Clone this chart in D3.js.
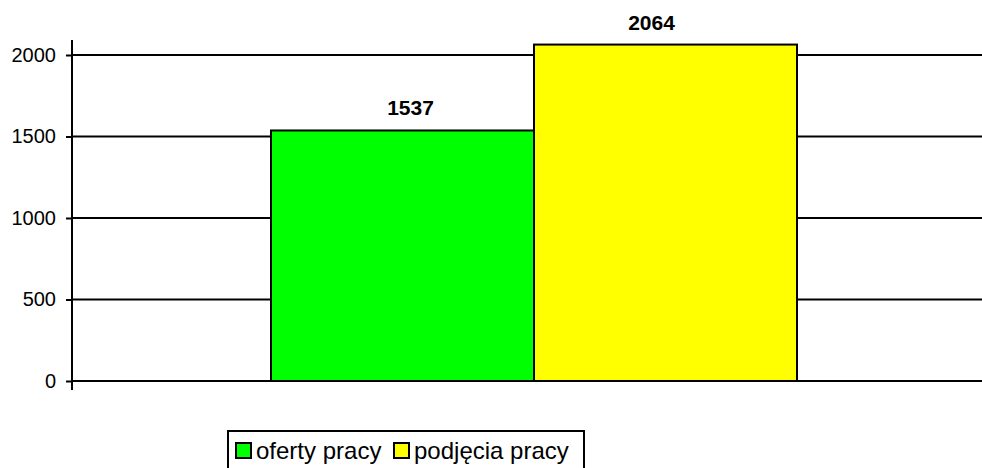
<!DOCTYPE html>
<html>
<head>
<meta charset="utf-8">
<script src="https://cdn.jsdelivr.net/npm/d3@7"></script>
<style>
  html, body { margin: 0; padding: 0; background: #fff; }
  svg { display: block; font-family: "Liberation Sans", Arial, sans-serif; }
</style>
</head>
<body>
<div id="chart"></div>
<script>
"use strict";
// data
const seriesNames = ["oferty pracy", "podjęcia pracy"];
const seriesValues = [1537, 2064];
const seriesColors = ["#00ff00", "#ffff00"];
const tickValues = [0, 500, 1000, 1500, 2000];

// layout (px)
const width = 982;
const height = 468;
const axisX = 72;
const plotTop = 40;
const labelDx = [8, -14]; // label nudges as in the original

const svg = d3.select("#chart")
    .append("svg")
    .attr("width", width)
    .attr("height", height);

const y = d3.scaleLinear().domain([0, 2000]).range([381, 55]);
const x = d3.scaleBand().domain(seriesNames).range([271, 797]).padding(0);

// gridlines
svg.append("g")
    .selectAll("line")
    .data(tickValues)
    .join("line")
    .attr("x1", axisX)
    .attr("x2", width)
    .attr("y1", (d) => y(d))
    .attr("y2", (d) => y(d))
    .attr("stroke", "#000")
    .attr("stroke-width", 2);

// bars
svg.append("g")
    .selectAll("rect")
    .data(seriesValues)
    .join("rect")
    .attr("x", (d, i) => x(seriesNames[i]))
    .attr("y", (d) => y(d))
    .attr("width", x.bandwidth())
    .attr("height", (d) => y(0) - y(d))
    .attr("fill", (d, i) => seriesColors[i])
    .attr("stroke", "#000")
    .attr("stroke-width", 2);

// value labels
svg.append("g")
    .selectAll("text")
    .data(seriesValues)
    .join("text")
    .attr("x", (d, i) => x(seriesNames[i]) + x.bandwidth() / 2 + labelDx[i])
    .attr("y", (d) => y(d) - 15)
    .attr("text-anchor", "middle")
    .attr("font-size", 21)
    .attr("font-weight", "bold")
    .text((d) => d);

// y axis
const axis = d3.axisLeft(y)
    .tickValues(tickValues)
    .tickFormat(d3.format("d"))
    .tickSize(6)
    .tickPadding(10)
    .tickSizeOuter(0);

const gAxis = svg.append("g")
    .attr("transform", `translate(${axisX},0)`)
    .call(axis);
gAxis.select(".domain").remove();
gAxis.selectAll(".tick line").attr("stroke", "#000").attr("stroke-width", 2);
gAxis.selectAll(".tick text")
    .attr("font-size", 20)
    .attr("font-family", "Liberation Sans, Arial, sans-serif")
    .attr("fill", "#000");

svg.append("line")
    .attr("x1", axisX)
    .attr("x2", axisX)
    .attr("y1", plotTop)
    .attr("y2", y(0) + 9)
    .attr("stroke", "#000")
    .attr("stroke-width", 2);

// legend
const legend = svg.append("g");
legend.append("rect")
    .attr("x", 228)
    .attr("y", 431)
    .attr("width", 356)
    .attr("height", 50)
    .attr("fill", "#fff")
    .attr("stroke", "#000")
    .attr("stroke-width", 2);

const legendX = [236, 394];
const items = legend.selectAll("g.item")
    .data(seriesNames)
    .join("g")
    .attr("class", "item")
    .attr("transform", (d, i) => `translate(${legendX[i]},443)`);

items.append("rect")
    .attr("width", 15)
    .attr("height", 15)
    .attr("fill", (d, i) => seriesColors[i])
    .attr("stroke", "#000")
    .attr("stroke-width", 2);

items.append("text")
    .attr("x", 20)
    .attr("y", 16)
    .attr("font-size", 24)
    .text((d) => d);
</script>
</body>
</html>
